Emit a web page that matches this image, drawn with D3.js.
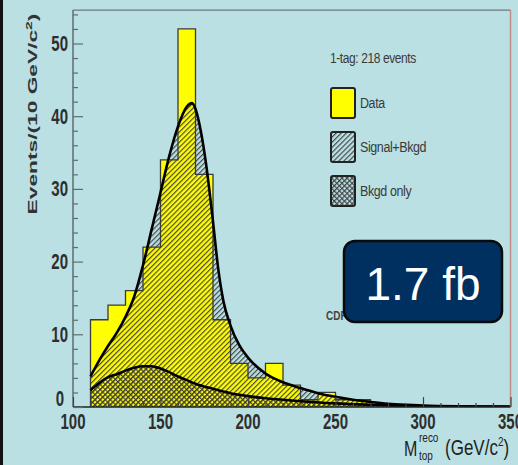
<!DOCTYPE html>
<html>
<head>
<meta charset="utf-8">
<script src="https://d3js.org/d3.v7.min.js"></script>
<style>
    body { margin: 0; background: #bae0e3; }
    svg { display: block; }
</style>
</head>
<body>
<div id="chart"></div>
<script>

// data histogram, 10 GeV bins (lower edge)
var binStart = [110, 120, 130, 140, 150, 160, 170, 180, 190, 200, 210, 220, 230, 240, 250, 260];
var dataCounts = [12, 14, 16, 22, 34, 52, 32, 12, 6, 4, 6, 3, 1, 2, 1, 1];

// signal + background fit curve
var sigMass = [110, 115, 120, 125, 130, 135, 140, 145, 150, 155, 160, 165, 168, 170, 173, 176, 180, 183, 186, 190, 195, 200, 210, 220, 230, 240, 250, 260, 270, 280, 290, 300, 320, 350];
var sigEvents = [4.2, 6.4, 8.4, 10.2, 12.4, 15.2, 19.5, 24.5, 29.5, 34.5, 38.6, 41.3, 41.8, 41.0, 38.0, 33.5, 25.5, 19.0, 14.5, 11.2, 8.5, 6.8, 4.6, 3.4, 2.6, 1.9, 1.4, 1.0, 0.7, 0.45, 0.3, 0.2, 0.1, 0.05];

// background only curve
var bkgMass = [110, 115, 120, 125, 130, 135, 140, 145, 150, 155, 160, 165, 170, 180, 190, 200, 210, 220, 230, 250, 270, 300, 350];
var bkgEvents = [2.3, 3.3, 4.1, 4.5, 5.0, 5.4, 5.6, 5.6, 5.3, 4.8, 4.2, 3.7, 3.2, 2.5, 1.9, 1.5, 1.2, 1.0, 0.8, 0.5, 0.3, 0.1, 0.03];

// axis ticks
var xMajor = [100, 150, 200, 250, 300, 350];
var yMajor = [0, 10, 20, 30, 40, 50];
var legendLabels = ["Data", "Signal+Bkgd", "Bkgd only"];

var width = 518, height = 465;

var svg = d3.select("#chart")
    .append("svg")
    .attr("width", width)
    .attr("height", height);

var x = d3.scaleLinear().domain([100, 350]).range([73, 510.5]);
var y = d3.scaleLinear().domain([0, 50]).range([407, 43.5]);
var yTop = y(54.6);

// hatch patterns
var defs = svg.append("defs");
var hatch = defs.append("pattern")
    .attr("id", "hatch")
    .attr("patternUnits", "userSpaceOnUse")
    .attr("width", 3.6).attr("height", 3.6)
    .attr("patternTransform", "rotate(45)");
hatch.append("line")
    .attr("x1", 0.6).attr("y1", 0).attr("x2", 0.6).attr("y2", 3.6)
    .attr("stroke", "#3c3c3c").attr("stroke-width", 1.1);

var cross = defs.append("pattern")
    .attr("id", "cross")
    .attr("patternUnits", "userSpaceOnUse")
    .attr("width", 3.6).attr("height", 3.6)
    .attr("patternTransform", "rotate(-45)");
cross.append("line")
    .attr("x1", 0.6).attr("y1", 0).attr("x2", 0.6).attr("y2", 3.6)
    .attr("stroke", "#3c3c3c").attr("stroke-width", 1.1);
cross.append("line")
    .attr("x1", 0).attr("y1", 0.6).attr("x2", 3.6).attr("y2", 0.6)
    .attr("stroke", "#3c3c3c").attr("stroke-width", 1.1);

defs.append("clipPath").attr("id", "plot-clip")
    .append("rect")
    .attr("x", x(100)).attr("y", yTop)
    .attr("width", x(350) - x(100)).attr("height", y(0) - yTop);

// slide border on the left
svg.append("line")
    .attr("x1", 1.5).attr("y1", 0).attr("x2", 1.5).attr("y2", height)
    .attr("stroke", "#111").attr("stroke-width", 3);

// stepped outline of the data histogram
function stepPath() {
    var pts = [[x(binStart[0]), y(0)]];
    binStart.forEach(function (b, i) {
        pts.push([x(b), y(dataCounts[i])]);
        pts.push([x(b + 10), y(dataCounts[i])]);
    });
    pts.push([x(binStart[binStart.length - 1] + 10), y(0)]);
    return d3.line()(pts);
}

var plot = svg.append("g").attr("clip-path", "url(#plot-clip)");

plot.append("path")
    .attr("d", stepPath())
    .attr("fill", "#ffff00")
    .attr("stroke", "none");

var sigPts = sigMass.map(function (m, i) { return [m, sigEvents[i]]; });
var bkgPts = bkgMass.map(function (m, i) { return [m, bkgEvents[i]]; });

var area = d3.area()
    .x(function (d) { return x(d[0]); })
    .y0(y(0))
    .y1(function (d) { return y(d[1]); })
    .curve(d3.curveMonotoneX);
var curve = d3.line()
    .x(function (d) { return x(d[0]); })
    .y(function (d) { return y(d[1]); })
    .curve(d3.curveMonotoneX);

plot.append("path").attr("d", area(sigPts)).attr("fill", "url(#hatch)");
plot.append("path").attr("d", area(bkgPts)).attr("fill", "url(#cross)");

plot.append("path")
    .attr("d", stepPath())
    .attr("fill", "none")
    .attr("stroke", "#3a3a3a")
    .attr("stroke-width", 1.3);

plot.append("path").attr("d", curve(bkgPts))
    .attr("fill", "none").attr("stroke", "#000").attr("stroke-width", 2.6);
plot.append("path").attr("d", curve(sigPts))
    .attr("fill", "none").attr("stroke", "#000").attr("stroke-width", 2.6);

// frame
svg.append("line")
    .attr("x1", x(100)).attr("y1", yTop).attr("x2", x(350)).attr("y2", yTop)
    .attr("stroke", "#6b7b7d").attr("stroke-width", 1.3);
svg.append("line")
    .attr("x1", x(350)).attr("y1", yTop).attr("x2", x(350)).attr("y2", y(0))
    .attr("stroke", "#c48a8a").attr("stroke-width", 1.5);
svg.append("line")
    .attr("x1", x(100)).attr("y1", yTop).attr("x2", x(100)).attr("y2", y(0))
    .attr("stroke", "#5d6d6f").attr("stroke-width", 1.5);
svg.append("line")
    .attr("x1", x(100)).attr("y1", y(0)).attr("x2", x(350)).attr("y2", y(0))
    .attr("stroke", "#222").attr("stroke-width", 1.5);

// y axis ticks (inside the frame)
var yAxis = d3.axisRight(y)
    .tickValues(d3.range(0, 55, 2))
    .tickSize(5)
    .tickFormat("");
var gy = svg.append("g").attr("transform", "translate(" + x(100) + ",0)").call(yAxis);
gy.select(".domain").remove();
gy.selectAll(".tick line")
    .attr("stroke", "#5d6d6f").attr("stroke-width", 1.2)
    .attr("x2", function (d) { return d % 10 === 0 ? 10 : 5; });

// x axis ticks (inside the frame)
var xAxis = d3.axisTop(x)
    .tickValues(d3.range(100, 351, 10))
    .tickSize(4)
    .tickFormat("");
var gx = svg.append("g").attr("transform", "translate(0," + y(0) + ")").call(xAxis);
gx.select(".domain").remove();
gx.selectAll(".tick line")
    .attr("stroke", "#444").attr("stroke-width", 1.2)
    .attr("y2", function (d) { return d % 50 === 0 ? -10 : -4; });

// tick labels, the picture is stretched vertically
var labelFont = "'Liberation Sans', Arial, sans-serif";
yMajor.forEach(function (v) {
    var base = v === 0 ? y(0) - 1 : y(v) + 7.5;
    svg.append("text")
        .attr("transform", "translate(" + (v === 0 ? 64 : 68) + "," + base + ") scale(1,1.45)")
        .attr("text-anchor", "end")
        .style("font-family", labelFont)
        .style("font-weight", "bold")
        .style("font-size", "15px")
        .style("fill", "#2e2e2e")
        .text(v);
});
xMajor.forEach(function (v) {
    svg.append("text")
        .attr("transform", "translate(" + x(v) + ",429) scale(1,1.45)")
        .attr("text-anchor", "middle")
        .style("font-family", labelFont)
        .style("font-weight", "bold")
        .style("font-size", "15px")
        .style("fill", "#2e2e2e")
        .text(v);
});

// y title
var yTitle = svg.append("text")
    .attr("transform", "translate(37,114) rotate(-90) scale(1.75,1)")
    .attr("text-anchor", "middle")
    .style("font-family", labelFont)
    .style("font-weight", "bold")
    .style("font-size", "13px")
    .style("fill", "#333");
yTitle.append("tspan").text("Events/(10 GeV/c");
yTitle.append("tspan").attr("dy", -5).style("font-size", "9px").text("2");
yTitle.append("tspan").attr("dy", 5).text(")");

// x title
var xTitle = svg.append("g");
xTitle.append("text")
    .attr("transform", "translate(404,456) scale(1,1.35)")
    .style("font-family", labelFont).style("font-size", "16px").style("fill", "#222")
    .text("M");
xTitle.append("text")
    .attr("transform", "translate(419,442) scale(1,1.3)")
    .style("font-family", labelFont).style("font-size", "10px").style("fill", "#222")
    .text("reco");
xTitle.append("text")
    .attr("transform", "translate(419,460) scale(1,1.3)")
    .style("font-family", labelFont).style("font-size", "10px").style("fill", "#222")
    .text("top");
var unit = xTitle.append("text")
    .attr("transform", "translate(445,455) scale(1,1.35)")
    .style("font-family", labelFont).style("font-size", "17px").style("fill", "#222");
unit.append("tspan").text("(GeV/c");
unit.append("tspan").attr("dy", -7).style("font-size", "10px").text("2");
unit.append("tspan").attr("dy", 7).text(")");

// legend
svg.append("text")
    .attr("transform", "translate(330,63) scale(1,1.15)")
    .style("font-family", labelFont).style("font-size", "12px").style("fill", "#3a3a3a")
    .style("letter-spacing", "-0.4px")
    .text("1-tag: 218 events");

var legendFill = ["#ffff00", "url(#hatch)", "url(#cross)"];
legendLabels.forEach(function (l, i) {
    var top = 88 + i * 44;
    svg.append("rect")
        .attr("x", 331).attr("y", top).attr("width", 24).attr("height", 30)
        .attr("rx", 2)
        .attr("fill", legendFill[i])
        .attr("stroke", "#222").attr("stroke-width", 2);
    svg.append("text")
        .attr("transform", "translate(360," + (top + 20) + ") scale(1,1.2)")
        .style("font-family", labelFont).style("font-size", "12.5px").style("fill", "#3a3a3a")
        .style("letter-spacing", "-0.4px")
        .text(l);
});

// experiment label, mostly hidden behind the luminosity box
svg.append("text")
    .attr("transform", "translate(326,320) scale(1,1.2)")
    .style("font-family", labelFont).style("font-weight", "bold")
    .style("font-size", "10px").style("fill", "#444")
    .text("CDF Run II Preliminary  (1.7 fb⁻¹)");

// luminosity box
svg.append("rect")
    .attr("x", 344).attr("y", 241).attr("width", 158).attr("height", 81)
    .attr("rx", 11)
    .attr("fill", "#00305f")
    .attr("stroke", "#0a0a0a").attr("stroke-width", 2.5);
svg.append("text")
    .attr("x", 423).attr("y", 300)
    .attr("text-anchor", "middle")
    .style("font-family", labelFont)
    .style("font-size", "46px")
    .style("fill", "#fff")
    .text("1.7 fb");

</script>
</body>
</html>
